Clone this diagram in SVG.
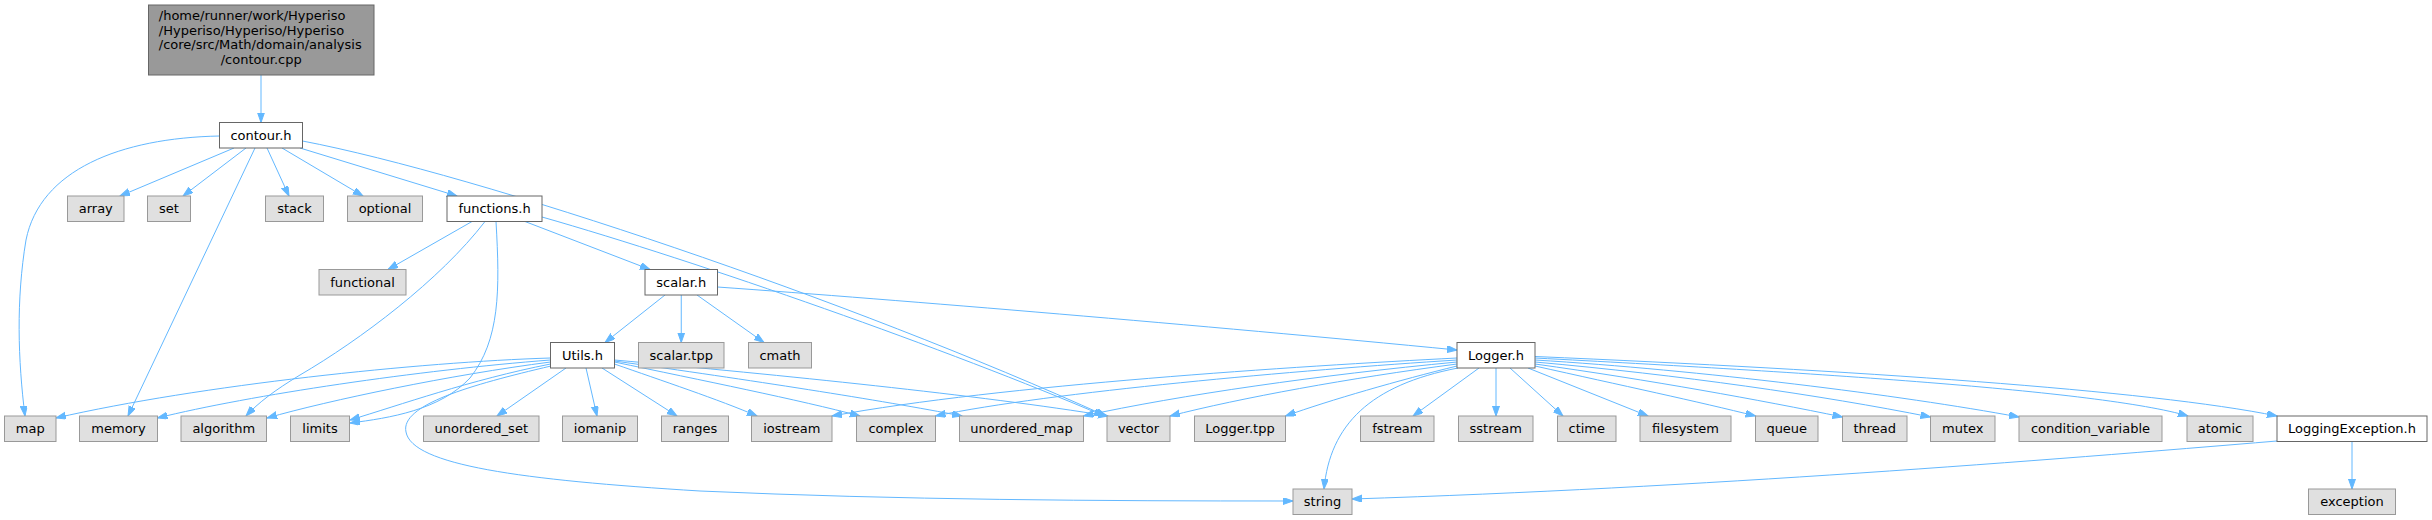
<svg xmlns="http://www.w3.org/2000/svg" width="2432" height="520" viewBox="0 0 2432 520">
<style>
text{font-family:"DejaVu Sans","Liberation Sans",sans-serif;font-size:13px;fill:#000;text-anchor:middle}
.sys rect{fill:#e0e0e0;stroke:#999999;stroke-width:1}
.prj rect{fill:#ffffff;stroke:#666666;stroke-width:1}
.root rect{fill:#999999;stroke:#666666;stroke-width:1}
#edges path{fill:none;stroke:#63b8ff;stroke-width:1;marker-end:url(#arr)}
</style>
<defs>
<marker id="arr" markerUnits="userSpaceOnUse" markerWidth="12" markerHeight="9" refX="10" refY="3.5" orient="auto">
<path d="M0,0 L10,3.5 L0,7 z" fill="#63b8ff" stroke="#63b8ff" stroke-width="1"/>
</marker>
</defs>
<rect width="2432" height="520" fill="#ffffff"/>
<g id="edges">
<path d="M261,75 L261,122.5"/>
<path d="M219.5,136 C120,138 40,170 26,240 C16,300 18,360 25,416"/>
<path d="M234,148 L120,196"/>
<path d="M246,148 L183,196"/>
<path d="M255,148 L128,416"/>
<path d="M267,148 L289,196"/>
<path d="M282,148 L363,196"/>
<path d="M300,148 L457,196"/>
<path d="M302.5,141 C480,175 850,300 1106,416"/>
<path d="M472,221.5 L388,269.5"/>
<path d="M485,221.5 C440,280 360,340 300,375 C275,390 258,403 246,416"/>
<path d="M496,221.5 C500,290 500,340 470,378 C440,410 390,418 350,423"/>
<path d="M525,221.5 L650,269.5"/>
<path d="M542,217 C700,262 950,350 1104,416"/>
<path d="M665,295 L605,342.5"/>
<path d="M681.25,295 L681.25,342.5"/>
<path d="M697,295 L764,342.5"/>
<path d="M717.5,287 C900,300 1200,325 1457,350"/>
<path d="M550.5,358 C420,362 200,385 56,418"/>
<path d="M550.5,360 C420,370 250,395 157.5,418"/>
<path d="M550.5,362 C450,375 330,400 267,418"/>
<path d="M550.5,364 C470,380 400,405 350,420"/>
<path d="M551,366 C470,385 400,405 406,432 C412,465 520,480 700,491 C900,500 1100,501 1293,501"/>
<path d="M566,368 L497,416"/>
<path d="M586,368 L597,416"/>
<path d="M602,368 L677,416"/>
<path d="M614.5,364 C660,380 720,400 757,416"/>
<path d="M614.5,362 C700,380 800,400 860,416"/>
<path d="M614.5,361 C750,380 880,400 962,416"/>
<path d="M614.5,360 C780,375 980,395 1108,416"/>
<path d="M1457,358 C1300,366 1000,385 832,416"/>
<path d="M1457,360 C1300,370 1050,392 935.5,416"/>
<path d="M1457,362 C1320,375 1180,395 1083.5,416"/>
<path d="M1457,364 C1350,378 1240,398 1170,416"/>
<path d="M1457,366 C1400,380 1330,400 1285.5,416"/>
<path d="M1458,368 C1370,385 1330,425 1324,489"/>
<path d="M1479,368 L1413,416"/>
<path d="M1496,368 L1496,416"/>
<path d="M1510,368 L1563,416"/>
<path d="M1528,368 L1648,416"/>
<path d="M1535,366 C1620,385 1700,402 1755.5,416"/>
<path d="M1535,364 C1650,380 1760,400 1842.5,417"/>
<path d="M1535,362 C1680,375 1820,395 1930.5,417"/>
<path d="M1535,360 C1700,370 1900,395 2019,417"/>
<path d="M1535,358 C1800,372 2100,390 2188,416"/>
<path d="M1535,356.5 C1850,370 2150,390 2277,416"/>
<path d="M2277,441 C2050,460 1700,488 1352,499"/>
<path d="M2352,441.5 L2352,489"/>
</g>
<g id="n_root" class="root"><rect x="148.5" y="5" width="225.5" height="70"/>
<text x="158.8" y="19.8" style="text-anchor:start">/home/runner/work/Hyperiso</text>
<text x="158.8" y="34.6" style="text-anchor:start">/Hyperiso/Hyperiso/Hyperiso</text>
<text x="158.8" y="49.4" style="text-anchor:start">/core/src/Math/domain/analysis</text>
<text x="261.2" y="64.2">/contour.cpp</text></g>
<g id="n_contour_h" class="prj"><rect x="219.5" y="122.5" width="83" height="25.5"/><text x="261" y="139.5">contour.h</text></g>
<g id="n_array" class="sys"><rect x="67.5" y="196" width="56.5" height="25.5"/><text x="95.75" y="213">array</text></g>
<g id="n_set" class="sys"><rect x="147.5" y="196" width="43" height="25.5"/><text x="169" y="213">set</text></g>
<g id="n_stack" class="sys"><rect x="265.5" y="196" width="58" height="25.5"/><text x="294.5" y="213">stack</text></g>
<g id="n_optional" class="sys"><rect x="347.5" y="196" width="75" height="25.5"/><text x="385" y="213">optional</text></g>
<g id="n_functions_h" class="prj"><rect x="447" y="196" width="95" height="25.5"/><text x="494.5" y="213">functions.h</text></g>
<g id="n_functional" class="sys"><rect x="319" y="269.5" width="87" height="25.5"/><text x="362.5" y="286.5">functional</text></g>
<g id="n_scalar_h" class="prj"><rect x="645" y="269.5" width="72.5" height="25.5"/><text x="681.25" y="286.5">scalar.h</text></g>
<g id="n_utils_h" class="prj"><rect x="550.5" y="342.5" width="64" height="25.5"/><text x="582.5" y="359.5">Utils.h</text></g>
<g id="n_scalar_tpp" class="sys"><rect x="638.5" y="342.5" width="85.5" height="25.5"/><text x="681.25" y="359.5">scalar.tpp</text></g>
<g id="n_cmath" class="sys"><rect x="748.5" y="342.5" width="63" height="25.5"/><text x="780" y="359.5">cmath</text></g>
<g id="n_logger_h" class="prj"><rect x="1457" y="342.5" width="78" height="25.5"/><text x="1496" y="359.5">Logger.h</text></g>
<g id="n_map" class="sys"><rect x="4.5" y="416" width="51.5" height="25.5"/><text x="30.25" y="433">map</text></g>
<g id="n_memory" class="sys"><rect x="79.5" y="416" width="78" height="25.5"/><text x="118.5" y="433">memory</text></g>
<g id="n_algorithm" class="sys"><rect x="181" y="416" width="85.5" height="25.5"/><text x="223.75" y="433">algorithm</text></g>
<g id="n_limits" class="sys"><rect x="290.5" y="416" width="59" height="25.5"/><text x="320" y="433">limits</text></g>
<g id="n_unordered_set" class="sys"><rect x="423.5" y="416" width="115.5" height="25.5"/><text x="481.25" y="433">unordered_set</text></g>
<g id="n_iomanip" class="sys"><rect x="562.5" y="416" width="75" height="25.5"/><text x="600" y="433">iomanip</text></g>
<g id="n_ranges" class="sys"><rect x="661.5" y="416" width="67" height="25.5"/><text x="695" y="433">ranges</text></g>
<g id="n_iostream" class="sys"><rect x="751.5" y="416" width="80.5" height="25.5"/><text x="791.75" y="433">iostream</text></g>
<g id="n_complex" class="sys"><rect x="856.5" y="416" width="79" height="25.5"/><text x="896" y="433">complex</text></g>
<g id="n_unordered_map" class="sys"><rect x="959.5" y="416" width="124" height="25.5"/><text x="1021.5" y="433">unordered_map</text></g>
<g id="n_vector" class="sys"><rect x="1107" y="416" width="63" height="25.5"/><text x="1138.5" y="433">vector</text></g>
<g id="n_logger_tpp" class="sys"><rect x="1194.5" y="416" width="91" height="25.5"/><text x="1240" y="433">Logger.tpp</text></g>
<g id="n_fstream" class="sys"><rect x="1360.5" y="416" width="73.5" height="25.5"/><text x="1397.25" y="433">fstream</text></g>
<g id="n_sstream" class="sys"><rect x="1458.5" y="416" width="74.5" height="25.5"/><text x="1495.75" y="433">sstream</text></g>
<g id="n_ctime" class="sys"><rect x="1557.5" y="416" width="58.5" height="25.5"/><text x="1586.75" y="433">ctime</text></g>
<g id="n_filesystem" class="sys"><rect x="1640" y="416" width="91" height="25.5"/><text x="1685.5" y="433">filesystem</text></g>
<g id="n_queue" class="sys"><rect x="1755.5" y="416" width="62.5" height="25.5"/><text x="1786.75" y="433">queue</text></g>
<g id="n_thread" class="sys"><rect x="1842.5" y="416" width="64.5" height="25.5"/><text x="1874.75" y="433">thread</text></g>
<g id="n_mutex" class="sys"><rect x="1930.5" y="416" width="64.5" height="25.5"/><text x="1962.75" y="433">mutex</text></g>
<g id="n_condition_variable" class="sys"><rect x="2019" y="416" width="143" height="25.5"/><text x="2090.5" y="433">condition_variable</text></g>
<g id="n_atomic" class="sys"><rect x="2187" y="416" width="66" height="25.5"/><text x="2220" y="433">atomic</text></g>
<g id="n_loggingexception_h" class="prj"><rect x="2277" y="416" width="150" height="25.5"/><text x="2352" y="433">LoggingException.h</text></g>
<g id="n_string" class="sys"><rect x="1293" y="489" width="59" height="25.5"/><text x="1322.5" y="506">string</text></g>
<g id="n_exception" class="sys"><rect x="2308.5" y="489" width="87" height="25.5"/><text x="2352" y="506">exception</text></g>
</svg>
